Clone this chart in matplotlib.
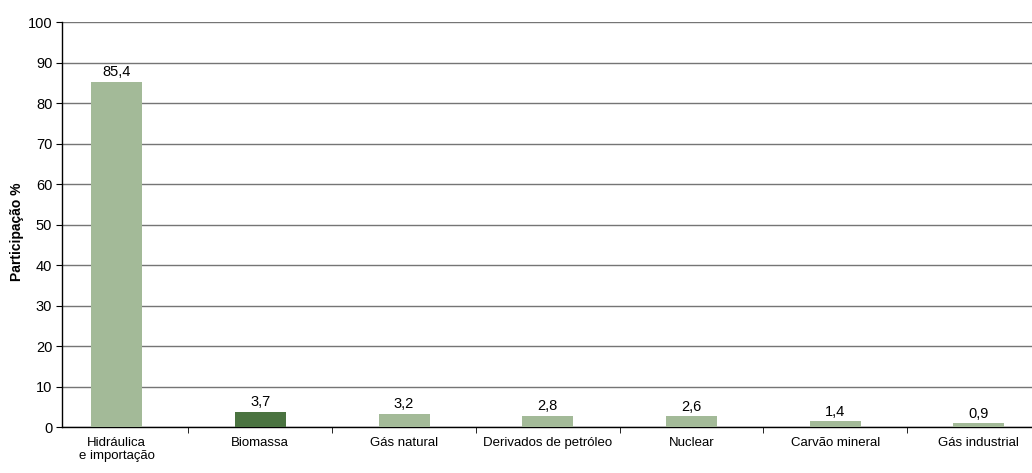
import matplotlib
matplotlib.use("Agg")
import matplotlib.pyplot as plt
from matplotlib.ticker import FixedLocator

categories = ["Hidráulica\ne importação", "Biomassa", "Gás natural",
              "Derivados de petróleo", "Nuclear", "Carvão mineral", "Gás industrial"]
values = [85.4, 3.7, 3.2, 2.8, 2.6, 1.4, 0.9]
value_labels = ["85,4", "3,7", "3,2", "2,8", "2,6", "1,4", "0,9"]
y_ticks = [0, 10, 20, 30, 40, 50, 60, 70, 80, 90, 100]

light = "#A3BA98"
dark = "#4A7340"
colors = [dark if c == "Biomassa" else light for c in categories]

font = ["Liberation Sans Narrow", "Liberation Sans", "DejaVu Sans"]
plt.rcParams["font.family"] = font

W, H = 1032, 473
fig = plt.figure(figsize=(W / 100, H / 100), dpi=100)
left = 62 / W
bottom = (H - 427) / H
top = (H - 22.5) / H
ax = fig.add_axes([left, bottom, 1 - left, top - bottom])

x = list(range(len(categories)))
bars = ax.bar(x, values, width=0.355, color=colors, zorder=3)

ax.set_xlim(-0.38, 6.37)
ax.set_ylim(0, 100)
ax.set_yticks(y_ticks)
ax.yaxis.grid(True, color="#757575", linewidth=1.0, zorder=0)
ax.set_axisbelow(True)

for s in ["top", "right"]:
    ax.spines[s].set_visible(False)
ax.spines["left"].set_color("black")
ax.spines["bottom"].set_color("black")
ax.spines["left"].set_linewidth(1.0)
ax.spines["bottom"].set_linewidth(1.0)

ax.set_xticks(x)
ax.set_xticklabels(categories, fontsize=9.5, linespacing=1.15)
ax.tick_params(axis="x", which="major", length=0, pad=7)
ax.xaxis.set_minor_locator(FixedLocator([i + 0.5 for i in range(len(categories) - 1)]))
ax.tick_params(axis="x", which="minor", length=4, direction="out", color="black")
ax.tick_params(axis="y", length=4, direction="out", labelsize=10.5, pad=3)

for xi, v, lab in zip(x, values, value_labels):
    ax.annotate(lab, (xi, v), xytext=(0, 2), textcoords="offset points",
                ha="center", va="bottom", fontsize=10.5)

fig.text(17 / W, 1 - 232 / H, "Participação %", rotation=90, ha="center",
         va="center", fontsize=10, fontweight="bold",
         family=["Liberation Sans", "DejaVu Sans"])

fig.savefig("out.png", dpi=100)
